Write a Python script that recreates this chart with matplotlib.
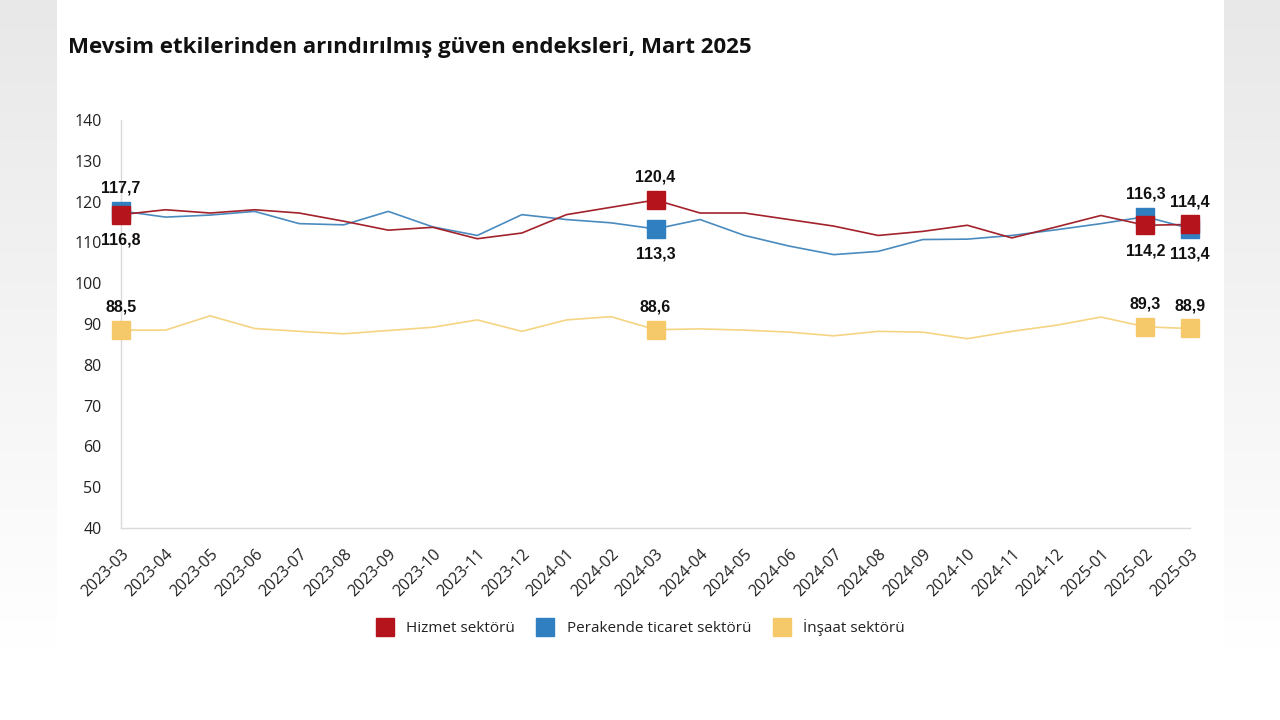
import matplotlib
matplotlib.use("Agg")
import matplotlib.pyplot as plt
import numpy as np

months = ["2023-03", "2023-04", "2023-05", "2023-06", "2023-07", "2023-08", "2023-09",
          "2023-10", "2023-11", "2023-12", "2024-01", "2024-02", "2024-03", "2024-04",
          "2024-05", "2024-06", "2024-07", "2024-08", "2024-09", "2024-10", "2024-11",
          "2024-12", "2025-01", "2025-02", "2025-03"]

hizmet = [116.8, 118.0, 117.2, 118.0, 117.2, 115.2, 113.0, 113.7, 110.9, 112.3, 116.8,
          118.6, 120.4, 117.2, 117.2, 115.6, 114.0, 111.7, 112.7, 114.2, 111.1, 113.8,
          116.6, 114.2, 114.4]
perakende = [117.7, 116.2, 116.7, 117.6, 114.6, 114.3, 117.6, 113.8, 111.7, 116.8, 115.6,
             114.8, 113.3, 115.6, 111.7, 109.1, 107.0, 107.8, 110.7, 110.8, 111.7, 113.1,
             114.6, 116.3, 113.4]
insaat = [88.5, 88.5, 92.0, 88.9, 88.2, 87.6, 88.4, 89.2, 91.0, 88.2, 91.0, 91.8, 88.6,
          88.8, 88.5, 88.0, 87.1, 88.2, 88.0, 86.4, 88.2, 89.7, 91.7, 89.3, 88.9]

series_names = ["Hizmet sektörü", "Perakende ticaret sektörü", "İnşaat sektörü"]
marker_idx = [0, 12, 23, 24]
title = "Mevsim etkilerinden arındırılmış güven endeksleri, Mart 2025"

line_colors = ["#A3222B", "#4A8BBF", "#F5D483"]
marker_colors = ["#B5141C", "#2F7FC1", "#F5C96A"]

fig = plt.figure(figsize=(12.8, 7.2), dpi=100)
fig.patch.set_facecolor("white")

# background side strips (soft grey)
bg = fig.add_axes([0, 0, 1, 1], zorder=-10)
bg.set_xlim(0, 1280); bg.set_ylim(720, 0); bg.axis("off")
grad = np.linspace(0.91, 1.0, 200).reshape(-1, 1)
bg.imshow(np.dstack([grad, grad, grad]), extent=[0, 57, 650, 0], aspect="auto")
bg.imshow(np.dstack([grad, grad, grad]), extent=[1224, 1280, 650, 0], aspect="auto")

ax = fig.add_axes([121 / 1280, 1 - 528 / 720, (1190 - 121) / 1280, (528 - 120) / 720])
x = np.arange(len(months))
data = [hizmet, perakende, insaat]
order = [2, 1, 0]
for k in order:
    vals = np.array(data[k])
    ax.plot(x, vals, color=line_colors[k], lw=1.2, zorder=2 + (2 - k), solid_joinstyle="miter")
    ax.plot(x[marker_idx], vals[marker_idx], linestyle="none", marker="s", markersize=12.5,
            color=marker_colors[k], clip_on=False, zorder=5 + (2 - k))

def fmt(v):
    return f"{v:.1f}".replace(".", ",")

lab_font = dict(family="Liberation Sans", weight="bold", size=11.5, color="#111111")
for i in marker_idx:
    r, b, y = hizmet[i], perakende[i], insaat[i]
    hi, lo = (r, b) if r >= b else (b, r)
    ax.annotate(fmt(hi), (i, max(r, b)), xytext=(0, 11), textcoords="offset points",
                ha="center", va="bottom", annotation_clip=False, **lab_font)
    ax.annotate(fmt(lo), (i, min(r, b)), xytext=(0, -13), textcoords="offset points",
                ha="center", va="top", annotation_clip=False, **lab_font)
    ax.annotate(fmt(y), (i, y), xytext=(0, 11), textcoords="offset points",
                ha="center", va="bottom", annotation_clip=False, **lab_font)

ax.set_xlim(0, len(months) - 1)
ax.set_ylim(40, 140)
ax.set_yticks(np.arange(40, 141, 10))
ax.set_xticks(x)
ax.set_xticklabels(months, rotation=45, ha="right", rotation_mode="anchor",
                   family="Open Sans", fontsize=11.5, color="#222222")
for t in ax.get_yticklabels():
    t.set_family("Open Sans"); t.set_fontsize(11.5); t.set_color("#222222")
ax.tick_params(axis="y", length=0, pad=14)
ax.tick_params(axis="x", length=0, pad=13)
for s in ["top", "right"]:
    ax.spines[s].set_visible(False)
for s in ["left", "bottom"]:
    ax.spines[s].set_color("#D9D9D9")
    ax.spines[s].set_linewidth(1.0)
ax.set_facecolor("none")

fig.text(68 / 1280, 1 - 47 / 720, title, family="Open Sans", weight="bold",
         fontsize=16, color="#111111", va="center", ha="left")

handles = [plt.Line2D([], [], linestyle="none", marker="s", markersize=13,
                      color=marker_colors[k]) for k in range(3)]
leg = fig.legend(handles, series_names, loc="center", bbox_to_anchor=(637 / 1280, 1 - 628 / 720),
                 ncol=3, frameon=False, handletextpad=0.4, columnspacing=1.0,
                 prop=dict(family="Open Sans", size=11))
for t in leg.get_texts():
    t.set_color("#222222")

fig.savefig("out.png", dpi=100, facecolor=fig.get_facecolor())
